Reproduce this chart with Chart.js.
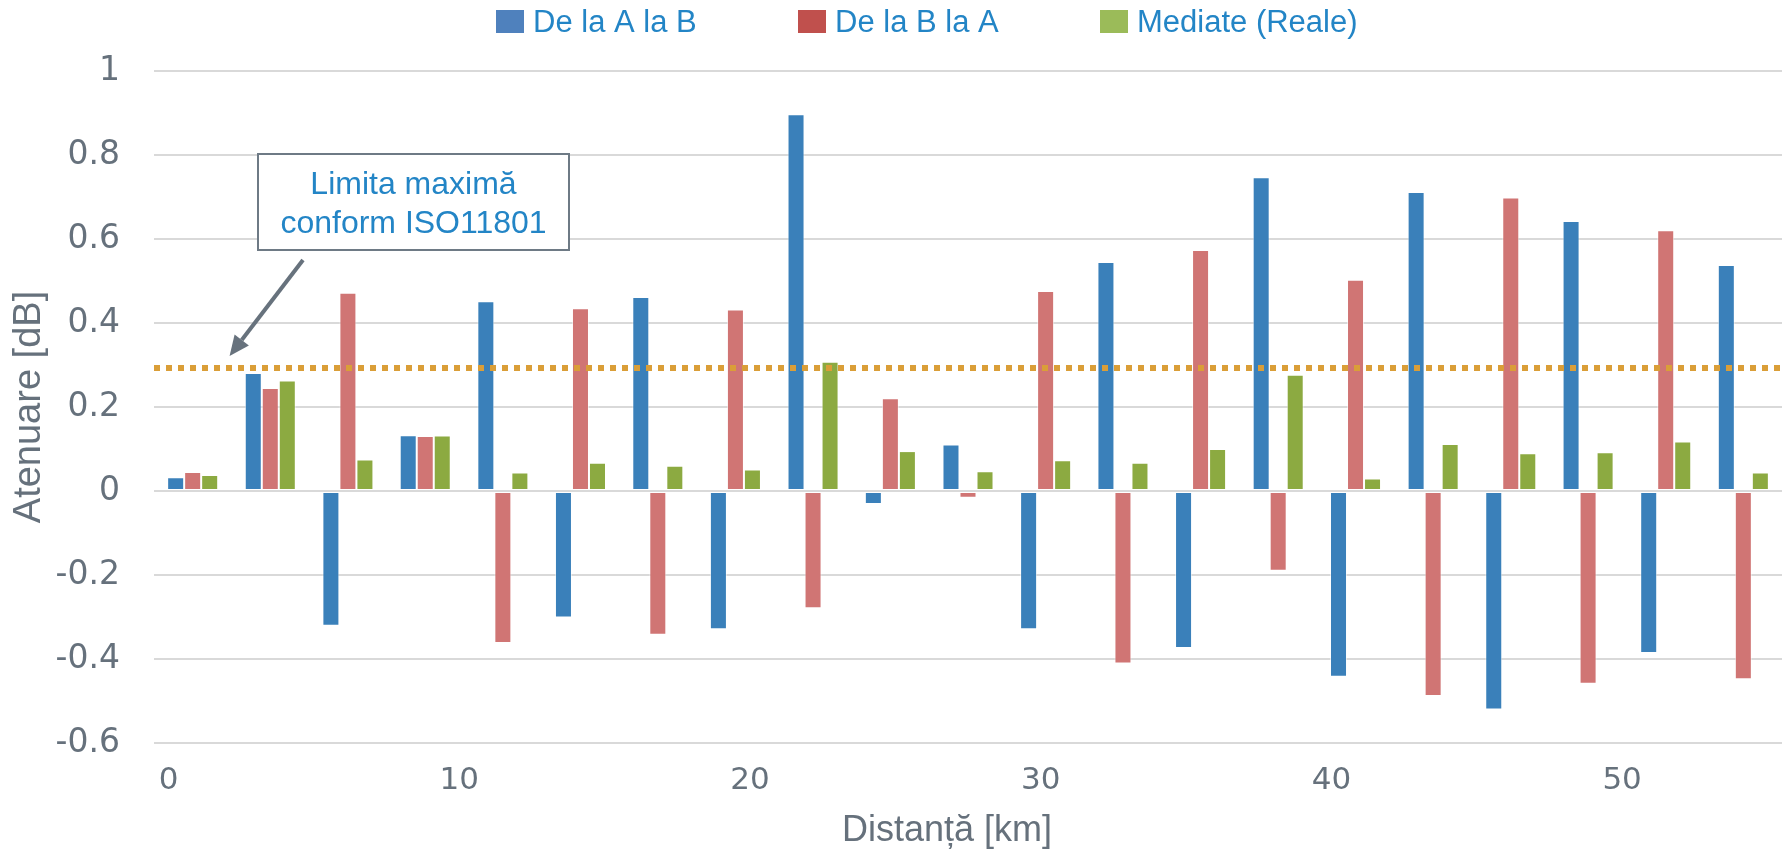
<!DOCTYPE html>
<html>
<head>
<meta charset="utf-8">
<title>Atenuare pe distanță</title>
<script src="https://cdn.jsdelivr.net/npm/chart.js@4.4.1/dist/chart.umd.min.js"></script>
<style>
  html, body { margin: 0; padding: 0; background: #ffffff; }
  #wrap { width: 1792px; height: 854px; position: relative; }
</style>
</head>
<body>
<div id="wrap"><canvas id="chart" width="1792" height="854"></canvas></div>
<script>
// Measurement positions along the link [km]
const distances = [0.83, 3.5, 6.17, 8.83, 11.5, 14.17, 16.83, 19.5, 22.17, 24.83, 27.5,
                   30.17, 32.83, 35.5, 38.17, 40.83, 43.5, 46.17, 48.83, 51.5, 54.17];

// Attenuation per segment [dB]
const seriesAB = [0.033, 0.281, -0.321, 0.133, 0.452, -0.301, 0.462, -0.329, 0.897, -0.031, 0.111,
                  -0.329, 0.545, -0.374, 0.747, -0.442, 0.712, -0.520, 0.643, -0.386, 0.538];
const seriesBA = [0.045, 0.245, 0.472, 0.131, -0.362, 0.435, -0.342, 0.432, -0.279, 0.221, -0.016,
                  0.476, -0.411, 0.574, -0.190, 0.503, -0.488, 0.699, -0.459, 0.621, -0.448];
const seriesAvg = [0.038, 0.263, 0.075, 0.132, 0.044, 0.067, 0.060, 0.051, 0.308, 0.095, 0.047,
                   0.073, 0.067, 0.100, 0.277, 0.030, 0.112, 0.090, 0.092, 0.118, 0.044];

// ISO 11801 limit [dB]
const limitISO = 0.293;

const seriesNames = ['De la A la B', 'De la B la A', 'Mediate (Reale)'];
const xTickValues = [0, 10, 20, 30, 40, 50];
const yTickValues = [-0.6, -0.4, -0.2, 0, 0.2, 0.4, 0.6, 0.8, 1];
const calloutLines = ['Limita maximă', 'conform ISO11801'];
const xAxisTitle = 'Distanță [km]';

const barColors = ['#3A80BA', '#D07574', '#8CAA41'];
const keyColors = ['#4F81BD', '#C0504D', '#9BBB59'];
const axisText = '#66717C';
const blueText = '#2385C6';
const SANS = '"Liberation Sans", Arial, sans-serif';
const WIDE = '"DejaVu Sans", Verdana, sans-serif';

const toPoints = (vals) => vals.map((v, i) => ({ x: distances[i], y: v }));

// Series key across the top
const seriesKey = {
  id: 'seriesKey',
  afterDraw(chart) {
    const ctx = chart.ctx;
    const starts = [496, 798, 1100];
    ctx.save();
    ctx.font = '31px ' + SANS;
    ctx.textBaseline = 'alphabetic';
    ctx.textAlign = 'left';
    seriesNames.forEach((name, i) => {
      ctx.fillStyle = keyColors[i];
      ctx.fillRect(starts[i], 10, 28, 23);
      ctx.fillStyle = blueText;
      ctx.fillText(name, starts[i] + 28 + 9, 32);
    });
    ctx.restore();
  }
};

// Horizontal axis caption, set slightly left of the plot centre
const xCaption = {
  id: 'xCaption',
  afterDraw(chart) {
    const ctx = chart.ctx;
    const area = chart.chartArea;
    ctx.save();
    ctx.font = '36px ' + SANS;
    ctx.fillStyle = axisText;
    ctx.textAlign = 'center';
    ctx.textBaseline = 'middle';
    ctx.fillText(xAxisTitle, (area.left + area.right) / 2 - 21, 831);
    ctx.restore();
  }
};

// Callout box with an arrow pointing at the limit line
const limitCallout = {
  id: 'limitCallout',
  afterDatasetsDraw(chart) {
    const ctx = chart.ctx;
    const ys = chart.scales.y;
    const xs = chart.scales.x;
    const box = { l: 258, t: 154, r: 569, b: 250 };
    ctx.save();
    ctx.fillStyle = '#ffffff';
    ctx.fillRect(box.l, box.t, box.r - box.l, box.b - box.t);
    ctx.strokeStyle = '#6E7A85';
    ctx.lineWidth = 2;
    ctx.strokeRect(box.l, box.t, box.r - box.l, box.b - box.t);

    ctx.fillStyle = blueText;
    ctx.font = '32px ' + SANS;
    ctx.textAlign = 'center';
    ctx.textBaseline = 'alphabetic';
    const cx = (box.l + box.r) / 2;
    ctx.fillText(calloutLines[0], cx, 194);
    ctx.fillText(calloutLines[1], cx, 233);

    // arrow
    const tipX = xs.getPixelForValue(2.1);
    const tipY = ys.getPixelForValue(limitISO) - 12;
    const tailX = 303, tailY = 260;
    const ang = Math.atan2(tipY - tailY, tipX - tailX);
    const headLen = 20, headHalf = 9;
    const baseX = tipX - headLen * Math.cos(ang);
    const baseY = tipY - headLen * Math.sin(ang);
    ctx.strokeStyle = '#67727D';
    ctx.lineWidth = 4;
    ctx.beginPath();
    ctx.moveTo(tailX, tailY);
    ctx.lineTo(baseX, baseY);
    ctx.stroke();
    ctx.fillStyle = '#67727D';
    ctx.beginPath();
    ctx.moveTo(tipX, tipY);
    ctx.lineTo(baseX + headHalf * Math.sin(ang), baseY - headHalf * Math.cos(ang));
    ctx.lineTo(baseX - headHalf * Math.sin(ang), baseY + headHalf * Math.cos(ang));
    ctx.closePath();
    ctx.fill();
    ctx.restore();
  }
};

const barBase = {
  type: 'bar',
  borderWidth: 1,
  borderColor: 'rgba(255,255,255,0.55)',
  borderSkipped: false,
  categoryPercentage: 0.66,
  barPercentage: 1.0,
  order: 1
};

new Chart(document.getElementById('chart'), {
  type: 'bar',
  data: {
    datasets: [
      Object.assign({}, barBase, { label: seriesNames[0], data: toPoints(seriesAB), backgroundColor: barColors[0] }),
      Object.assign({}, barBase, { label: seriesNames[1], data: toPoints(seriesBA), backgroundColor: barColors[1] }),
      Object.assign({}, barBase, { label: seriesNames[2], data: toPoints(seriesAvg), backgroundColor: barColors[2] }),
      {
        type: 'line',
        label: 'Limita ISO11801',
        data: [{ x: -0.5, y: limitISO }, { x: 55.5, y: limitISO }],
        borderColor: '#DA9E38',
        borderWidth: 6,
        borderDash: [6, 6],
        borderCapStyle: 'butt',
        pointRadius: 0,
        fill: false,
        order: 0
      }
    ]
  },
  options: {
    responsive: false,
    animation: false,
    devicePixelRatio: 1,
    layout: { padding: { top: 71, left: 7, right: 10, bottom: 0 } },
    plugins: {
      legend: { display: false },
      tooltip: { enabled: false }
    },
    scales: {
      x: {
        type: 'linear',
        position: 'bottom',
        min: -0.5,
        max: 55.5,
        offset: false,
        grid: { display: false, offset: false, drawTicks: false },
        border: { display: false },
        afterBuildTicks: (scale) => { scale.ticks = xTickValues.map(v => ({ value: v })); },
        afterFit: (scale) => { scale.height = 111; },
        ticks: {
          autoSkip: false,
          maxRotation: 0,
          padding: 19,
          color: axisText,
          font: { family: WIDE, size: 31 },
          callback: (v) => String(v)
        },
        title: { display: false }
      },
      y: {
        min: -0.6,
        max: 1,
        grid: { color: '#D9D9D9', lineWidth: 2, drawTicks: false },
        border: { display: false },
        afterBuildTicks: (scale) => { scale.ticks = yTickValues.map(v => ({ value: v })); },
        afterFit: (scale) => { scale.width = 147; },
        ticks: {
          padding: 34,
          color: axisText,
          font: { family: WIDE, size: 33 },
          callback: (v) => String(Math.round(v * 10) / 10)
        },
        title: {
          display: true,
          text: 'Atenuare [dB]',
          color: axisText,
          font: { family: SANS, size: 38 },
          padding: { top: 0, bottom: 0 }
        }
      }
    }
  },
  plugins: [seriesKey, xCaption, limitCallout]
});
</script>
</body>
</html>
